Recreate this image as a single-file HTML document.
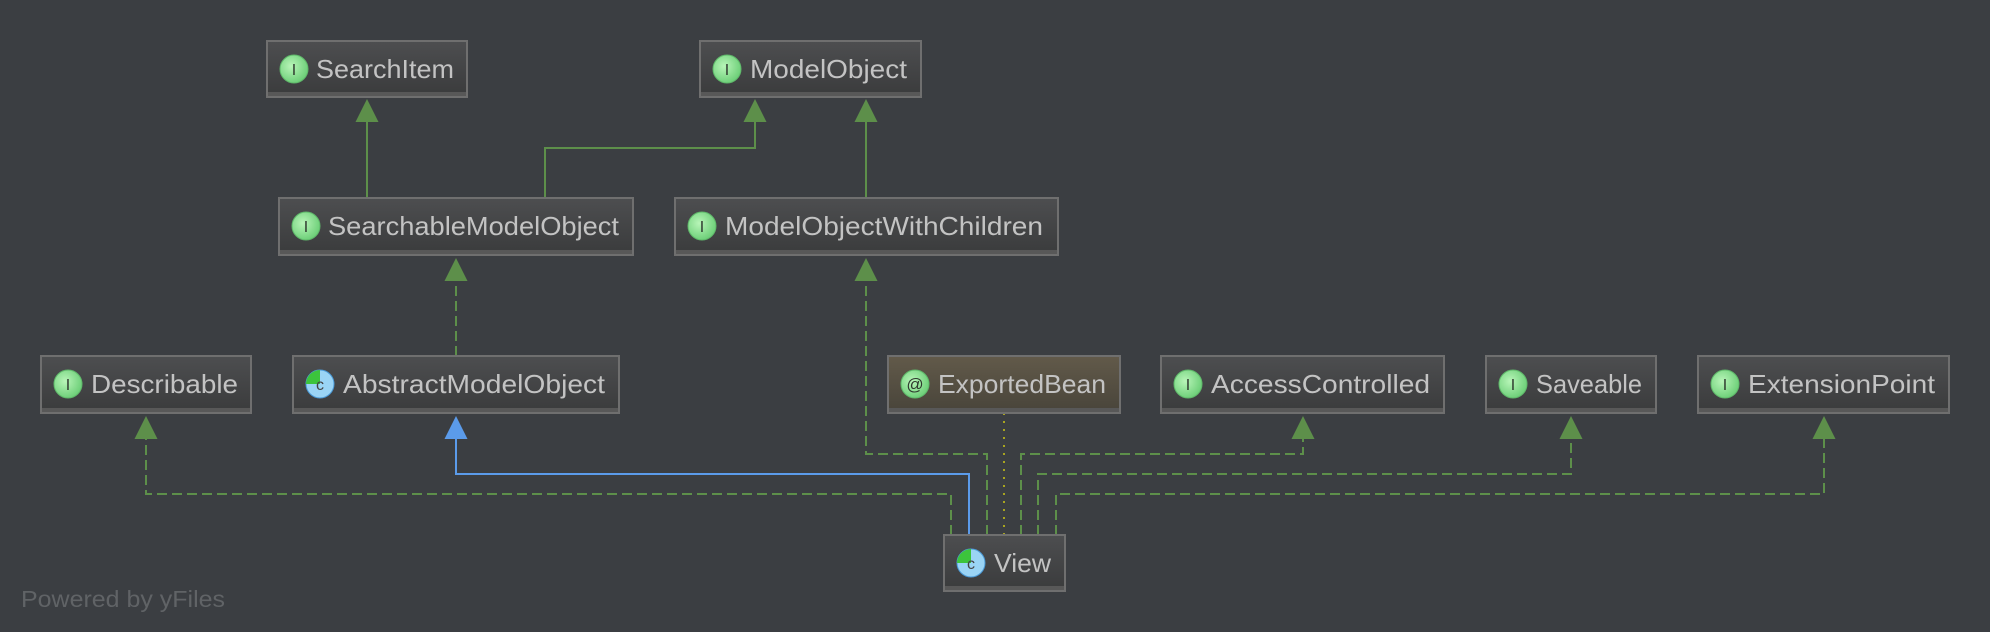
<!DOCTYPE html>
<html><head><meta charset="utf-8"><style>
html,body{margin:0;padding:0;background:#3b3e42;}
svg{display:block}
text{font-family:"Liberation Sans",sans-serif;}
</style></head><body>
<svg width="1990" height="632" viewBox="0 0 1990 632" xmlns="http://www.w3.org/2000/svg">
<defs>
<linearGradient id="g" x1="0" y1="0" x2="0" y2="1"><stop offset="0" stop-color="#4d4e50"/><stop offset="1" stop-color="#3a3b3c"/></linearGradient>
<linearGradient id="gb" x1="0" y1="0" x2="0" y2="1"><stop offset="0" stop-color="#625a4a"/><stop offset="1" stop-color="#48443a"/></linearGradient>
<radialGradient id="ig" cx="0.4" cy="0.4" r="0.6"><stop offset="0" stop-color="#b8f5b8"/><stop offset="1" stop-color="#6fd07a"/></radialGradient>
</defs>
<rect width="1990" height="632" fill="#3b3e42"/>

<g fill="none" stroke-width="2">
<path d="M367 122V198" stroke="#5d8f4a"/>
<path d="M545 198V148H755V122" stroke="#5d8f4a"/>
<path d="M866 122V198" stroke="#5d8f4a"/>
<g stroke="#5d8f4a" stroke-dasharray="10,5">
<path d="M456 356V281"/>
<path d="M987 535V454H866V281"/>
<path d="M951 535V494H146V439"/>
<path d="M1021 535V454H1303V439"/>
<path d="M1038 535V474H1571V439"/>
<path d="M1056 535V494H1824V439"/>
</g>
<path d="M969 535V474H456V439" stroke="#5b9bea"/>
<path d="M1004 413V535" stroke="#a8a420" stroke-dasharray="2,6"/>
</g>
<g fill="#5d8f4a">
<path d="M367 99L355.5 122H378.5Z"/>
<path d="M755 99L743.5 122H766.5Z"/>
<path d="M866 99L854.5 122H877.5Z"/>
<path d="M456 258L444.5 281H467.5Z"/>
<path d="M866 258L854.5 281H877.5Z"/>
<path d="M146 416L134.5 439H157.5Z"/>
<path d="M1303 416L1291.5 439H1314.5Z"/>
<path d="M1571 416L1559.5 439H1582.5Z"/>
<path d="M1824 416L1812.5 439H1835.5Z"/>
</g>
<path d="M456 416L444.5 439H467.5Z" fill="#5b9bea"/>

<g font-size="26" fill="#c3c3c3">
<g>
<rect x="267" y="41" width="200" height="56" fill="url(#g)" stroke="#6f6f6f" stroke-width="2"/><rect x="268" y="92" width="198" height="4" fill="#585858"/>
<circle cx="294" cy="69" r="14" fill="url(#ig)" stroke="#5fb86a"/><text x="294" y="75" font-size="16" fill="#2f3a2f" text-anchor="middle" font-family="Liberation Serif,serif">I</text>
<text x="316" y="78" textLength="138" lengthAdjust="spacingAndGlyphs">SearchItem</text>
</g>
<g>
<rect x="700" y="41" width="221" height="56" fill="url(#g)" stroke="#6f6f6f" stroke-width="2"/><rect x="701" y="92" width="219" height="4" fill="#585858"/>
<circle cx="727" cy="69" r="14" fill="url(#ig)" stroke="#5fb86a"/><text x="727" y="75" font-size="16" fill="#2f3a2f" text-anchor="middle" font-family="Liberation Serif,serif">I</text>
<text x="750" y="78" textLength="157" lengthAdjust="spacingAndGlyphs">ModelObject</text>
</g>
<g>
<rect x="279" y="198" width="354" height="57" fill="url(#g)" stroke="#6f6f6f" stroke-width="2"/><rect x="280" y="250" width="352" height="4" fill="#585858"/>
<circle cx="306" cy="226" r="14" fill="url(#ig)" stroke="#5fb86a"/><text x="306" y="232" font-size="16" fill="#2f3a2f" text-anchor="middle" font-family="Liberation Serif,serif">I</text>
<text x="328" y="235" textLength="291" lengthAdjust="spacingAndGlyphs">SearchableModelObject</text>
</g>
<g>
<rect x="675" y="198" width="383" height="57" fill="url(#g)" stroke="#6f6f6f" stroke-width="2"/><rect x="676" y="250" width="381" height="4" fill="#585858"/>
<circle cx="702" cy="226" r="14" fill="url(#ig)" stroke="#5fb86a"/><text x="702" y="232" font-size="16" fill="#2f3a2f" text-anchor="middle" font-family="Liberation Serif,serif">I</text>
<text x="725" y="235" textLength="318" lengthAdjust="spacingAndGlyphs">ModelObjectWithChildren</text>
</g>
<g>
<rect x="41" y="356" width="210" height="57" fill="url(#g)" stroke="#6f6f6f" stroke-width="2"/><rect x="42" y="408" width="208" height="4" fill="#585858"/>
<circle cx="68" cy="384" r="14" fill="url(#ig)" stroke="#5fb86a"/><text x="68" y="390" font-size="16" fill="#2f3a2f" text-anchor="middle" font-family="Liberation Serif,serif">I</text>
<text x="91" y="393" textLength="147" lengthAdjust="spacingAndGlyphs">Describable</text>
</g>
<g>
<rect x="293" y="356" width="326" height="57" fill="url(#g)" stroke="#6f6f6f" stroke-width="2"/><rect x="294" y="408" width="324" height="4" fill="#585858"/>
<circle cx="320" cy="384" r="14" fill="#9ad4f5" stroke="#4a9ad8"/><path d="M320 384V370A14 14 0 0 0 306 384Z" fill="#3cc43c"/><text x="320" y="390" font-size="16" fill="#444" text-anchor="middle">c</text>
<text x="343" y="393" textLength="262" lengthAdjust="spacingAndGlyphs">AbstractModelObject</text>
</g>
<g>
<rect x="888" y="356" width="232" height="57" fill="url(#gb)" stroke="#6f6f6f" stroke-width="2"/><rect x="889" y="408" width="230" height="4" fill="#585858"/>
<circle cx="915" cy="384" r="14" fill="url(#ig)" stroke="#5fb86a"/><text x="915" y="390" font-size="17" fill="#2f3a2f" text-anchor="middle">@</text>
<text x="938" y="393" textLength="168" lengthAdjust="spacingAndGlyphs">ExportedBean</text>
</g>
<g>
<rect x="1161" y="356" width="283" height="57" fill="url(#g)" stroke="#6f6f6f" stroke-width="2"/><rect x="1162" y="408" width="281" height="4" fill="#585858"/>
<circle cx="1188" cy="384" r="14" fill="url(#ig)" stroke="#5fb86a"/><text x="1188" y="390" font-size="16" fill="#2f3a2f" text-anchor="middle" font-family="Liberation Serif,serif">I</text>
<text x="1211" y="393" textLength="219" lengthAdjust="spacingAndGlyphs">AccessControlled</text>
</g>
<g>
<rect x="1486" y="356" width="170" height="57" fill="url(#g)" stroke="#6f6f6f" stroke-width="2"/><rect x="1487" y="408" width="168" height="4" fill="#585858"/>
<circle cx="1513" cy="384" r="14" fill="url(#ig)" stroke="#5fb86a"/><text x="1513" y="390" font-size="16" fill="#2f3a2f" text-anchor="middle" font-family="Liberation Serif,serif">I</text>
<text x="1536" y="393" textLength="106" lengthAdjust="spacingAndGlyphs">Saveable</text>
</g>
<g>
<rect x="1698" y="356" width="251" height="57" fill="url(#g)" stroke="#6f6f6f" stroke-width="2"/><rect x="1699" y="408" width="249" height="4" fill="#585858"/>
<circle cx="1725" cy="384" r="14" fill="url(#ig)" stroke="#5fb86a"/><text x="1725" y="390" font-size="16" fill="#2f3a2f" text-anchor="middle" font-family="Liberation Serif,serif">I</text>
<text x="1748" y="393" textLength="187" lengthAdjust="spacingAndGlyphs">ExtensionPoint</text>
</g>
<g>
<rect x="944" y="535" width="121" height="56" fill="url(#g)" stroke="#6f6f6f" stroke-width="2"/><rect x="945" y="586" width="119" height="4" fill="#585858"/>
<circle cx="971" cy="563" r="14" fill="#9ad4f5" stroke="#4a9ad8"/><path d="M971 563V549A14 14 0 0 0 957 563Z" fill="#3cc43c"/><text x="971" y="569" font-size="16" fill="#444" text-anchor="middle">c</text>
<text x="994" y="572" textLength="57" lengthAdjust="spacingAndGlyphs">View</text>
</g>
</g>
<text x="21" y="607" font-size="23" fill="#606366" textLength="204" lengthAdjust="spacingAndGlyphs">Powered by yFiles</text>
</svg>
</body></html>
